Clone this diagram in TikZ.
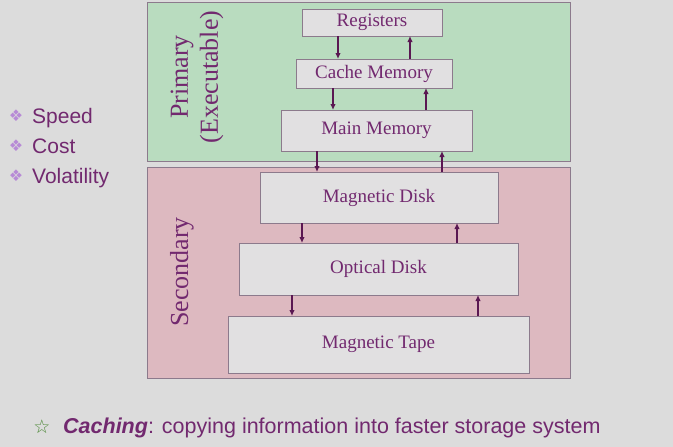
\documentclass[tikz,border=0pt]{standalone}
\usepackage{fontspec}
\setmainfont{Liberation Serif}
\setsansfont{Liberation Sans}
\newfontfamily\symfont{DejaVu Sans}
\usetikzlibrary{arrows.meta}

\definecolor{slidebg}{HTML}{DCDCDC}
\definecolor{primfill}{HTML}{B9DCBF}
\definecolor{secfill}{HTML}{DDB9C0}
\definecolor{boxfill}{HTML}{E1E0E1}
\definecolor{edgecol}{HTML}{8C7A8C}
\definecolor{txtcol}{HTML}{72296F}
\definecolor{arrcol}{HTML}{5A1752}
\definecolor{bulcol}{HTML}{B78AD6}
\definecolor{starcol}{HTML}{4F8A3A}

\tikzset{
  membox/.style={draw=edgecol,line width=0.9pt,fill=boxfill,inner sep=0pt,outer sep=0pt,
    text=txtcol,font=\fontsize{19}{21}\selectfont},
  move/.style={arrcol,line width=1.6pt,-{Latex[length=6pt,width=5.5pt]}},
  region/.style={draw=edgecol,line width=0.9pt},
  side/.style={text=txtcol,font=\fontsize{26}{30}\selectfont,rotate=90,align=center},
  item/.style={text=txtcol,font=\sffamily\fontsize{21}{23}\selectfont,anchor=base west,inner sep=0pt},
  bul/.style={text=bulcol,font=\symfont\fontsize{16}{17}\selectfont,inner sep=0pt}
}

\begin{document}
\begin{tikzpicture}[x=1pt,y=-1pt]
  \useasboundingbox (0,0) rectangle (673,447);
  \fill[slidebg] (0,0) rectangle (673,447);

  % two storage regions
  \draw[region,fill=primfill] (147,2) rectangle (570,161);
  \draw[region,fill=secfill] (147,167) rectangle (570,378);
  \node[side] (prim) at (197,77) {Primary\\(Executable)};
  \node[side] (sec) at (182,272) {Secondary};

  % storage levels
  \node[membox,minimum width=140,minimum height=27] (reg) at (372,22.5) {Registers};
  \node[membox,minimum width=156,minimum height=29] (cache) at (374,73.5) {Cache Memory};
  \node[membox,minimum width=191,minimum height=41] (main) at (376.5,130.5) {Main Memory};
  \node[membox,minimum width=238,minimum height=51] (mdisk) at (379,197.5) {Magnetic Disk};
  \node[membox,minimum width=279,minimum height=52] (odisk) at (378.5,269) {Optical Disk};
  \node[membox,minimum width=301,minimum height=57] (tape) at (378.5,344.5) {Magnetic Tape};

  % moves between levels
  \draw[move] (reg.south -| 338,0) -- (cache.north -| 338,0);
  \draw[move] (cache.north -| 410,0) -- (reg.south -| 410,0);
  \draw[move] (cache.south -| 333,0) -- (main.north -| 333,0);
  \draw[move] (main.north -| 426,0) -- (cache.south -| 426,0);
  \draw[move] (main.south -| 317,0) -- (mdisk.north -| 317,0);
  \draw[move] (mdisk.north -| 442,0) -- (main.south -| 442,0);
  \draw[move] (mdisk.south -| 302,0) -- (odisk.north -| 302,0);
  \draw[move] (odisk.north -| 457,0) -- (mdisk.south -| 457,0);
  \draw[move] (odisk.south -| 292,0) -- (tape.north -| 292,0);
  \draw[move] (tape.north -| 478,0) -- (odisk.south -| 478,0);

  % list on the left
  \node[bul] (b1) at (16,116) {❖};
  \node[item] (speed) at (32,123) {Speed};
  \node[bul] (b2) at (16,146) {❖};
  \node[item] (cost) at (32,153) {Cost};
  \node[bul] (b3) at (16,176) {❖};
  \node[item] (vol) at (32,183) {Volatility};

  % note at the bottom
  \node[text=starcol,font=\symfont\fontsize{19}{20}\selectfont,inner sep=0pt] (star) at (42,427) {☆};
  \node[item,anchor=base west,font=\sffamily\fontsize{21.5}{23}\selectfont] (note) at (63,433)
    {\textbf{\textit{Caching}}: copying information into faster storage system};
\end{tikzpicture}
\end{document}
